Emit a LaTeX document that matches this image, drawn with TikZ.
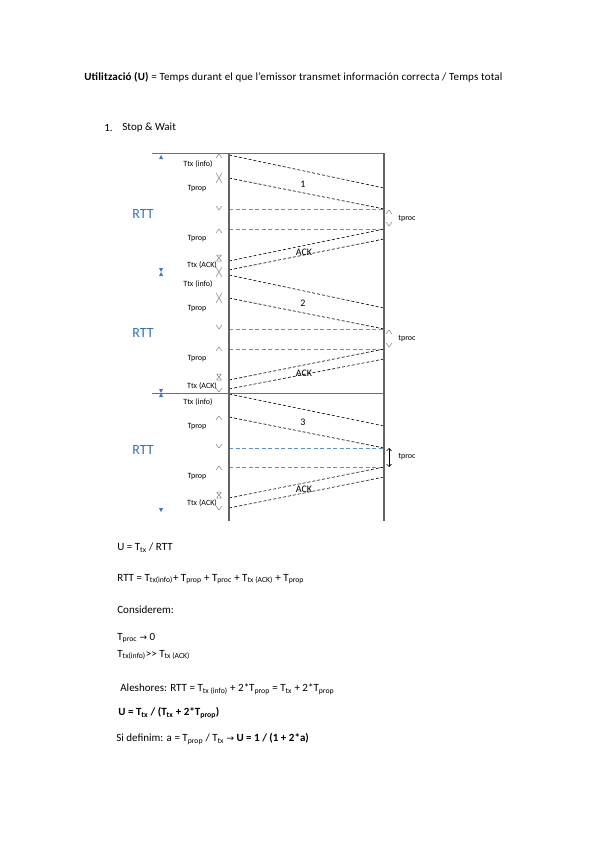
\documentclass[tikz,border=0pt]{standalone}
\usepackage{fontspec}
\setmainfont{Carlito}
\newfontfamily\symfont{DejaVu Sans}
\usetikzlibrary{arrows.meta,positioning,calc}
\definecolor{rttblue}{RGB}{46,116,181}
\definecolor{lineblue}{RGB}{68,114,196}
\definecolor{dashblue}{RGB}{91,145,210}
\definecolor{axisgray}{RGB}{100,100,100}
\newcommand{\sub}[1]{\textsubscript{#1}}
\tikzset{every picture/.style={line width=0.75pt}}
\tikzset{
  txt/.style={anchor=west, inner sep=0pt, font=\fontsize{11}{13}\selectfont},
  lbl/.style={inner sep=0pt, font=\fontsize{8}{9}\selectfont},
  seqno/.style={inner sep=0pt, font=\fontsize{10}{12}\selectfont},
  acklbl/.style={inner sep=0pt, font=\fontsize{10}{12}\selectfont},
  rtt/.style={inner sep=0pt, text=rttblue, font=\fontsize{14}{16}\selectfont},
  frame/.style={draw=lineblue, line width=0.8pt},
  host/.style={draw=axisgray, line width=1.5pt},
  msg/.style={dash pattern=on 3pt off 2pt, line width=0.6pt},
  level/.style={color=dashblue, dash pattern=on 4pt off 2.5pt, line width=1pt},
  upmark/.pic={\draw[gray, line width=0.5pt] (-3,2) -- (0,-2) -- (3,2);},
  downmark/.pic={\draw[gray, line width=0.5pt] (-3,-2) -- (0,2) -- (3,-2);},
  crossmark/.pic={\draw[gray, line width=0.5pt] (-3,-5) -- (3,5) (3,-5) -- (-3,5);},
  ackmark/.pic={\draw[gray, line width=0.5pt] (-2.5,-3) -- (2.5,3) (2.5,-3) -- (-2.5,3)
      (-2.5,-3) -- (2.5,-3) (-2.5,3) -- (2.5,3);},
  rttup/.pic={\fill[lineblue] (-2,2) -- (0,-2) -- (2,2) -- cycle;},
  rttdown/.pic={\fill[lineblue] (-2,-2) -- (0,2) -- (2,-2) -- cycle;},
  rttjoin/.pic={\fill[lineblue] (-2,-4) -- (2,-4) -- (0,0) -- cycle (-2,4) -- (2,4) -- (0,0) -- cycle;},
}

\begin{document}
\begin{tikzpicture}[x=1pt, y=-1pt]
    \useasboundingbox (0,0) rectangle (599,848);

    % títol
    \node[txt] (title) at (84,77) {\addfontfeatures{LetterSpace=1.5}\textbf{Utilització (U)} = Temps durant el que l’emissor transmet información correcta / Temps total};
    \node[txt] (num) at (104,128) {1.};
    \node[txt] (heading) at (122,128) {Stop \& Wait};

    % emissor i receptor
    \coordinate (etop) at (229,153);
    \coordinate (ebot) at (229,521);
    \coordinate (rtop) at (384,153);
    \coordinate (rbot) at (384,521);
    \draw[frame] (152,153) -- (rtop);
    \draw[frame] (152,393) -- (384,393);

    % RTT a l'esquerra
    \pic at (161,157) {rttup};
    \pic at (161,272) {rttjoin};
    \pic at (161,393) {rttjoin};
    \pic at (161,510) {rttdown};
    \node[rtt] (rtta) at (143,214) {RTT};
    \node[rtt] (rttb) at (143,333) {RTT};
    \node[rtt] (rttc) at (143,450) {RTT};

    % nivells (línies blaves)
    \coordinate (r1b) at (384,209);
    \coordinate (r1c) at (384,229);
    \coordinate (r2b) at (384,329);
    \coordinate (r2c) at (384,349);
    \coordinate (r3b) at (384,448);
    \coordinate (r3c) at (384,467);
    \draw[level] (r1b -| etop) -- (r1b);
    \draw[level] (r1c -| etop) -- (r1c);
    \draw[level] (r2b -| etop) -- (r2b);
    \draw[level] (r2c -| etop) -- (r2c);
    \draw[level] (r3b -| etop) -- (r3b);
    \draw[level] (r3c -| etop) -- (r3c);

    % trama 1
    \coordinate (e1a) at (229,155);
    \coordinate (r1a) at (384,188);
    \coordinate (e1b) at (229,178);
    \coordinate (e1c) at (229,261);
    \coordinate (r1d) at (384,239);
    \coordinate (e1d) at (229,270);
    \draw[msg] (e1a) -- (r1a);
    \draw[msg] (e1b) -- (r1b);
    \draw[msg] (e1c) -- (r1c);
    \draw[msg] (e1d) -- (r1d);
    \node[seqno] (n1) at (303,184) {1};
    \node[acklbl] (ack1) at (304,252) {ACK};
    \pic at (219,156) {upmark};
    \pic at (219,178) {crossmark};
    \pic at (219,208) {downmark};
    \pic at (219,231) {upmark};
    \pic at (219,258) {ackmark};
    \pic at (219,272) {crossmark};
    \node[lbl] (tx1) at (198,164) {Ttx (info)};
    \node[lbl] (pa1) at (197,189) {Tprop};
    \node[lbl] (pb1) at (197,239) {Tprop};
    \node[lbl] (ta1) at (202,265) {Ttx (ACK)};
    \pic at (389,212) {upmark};
    \pic at (389,224) {downmark};
    \node[lbl, anchor=west] (pr1) at (398,219) {tproc};

    % trama 2
    \coordinate (e2a) at (229,275);
    \coordinate (r2a) at (384,308);
    \coordinate (e2b) at (229,298);
    \coordinate (e2c) at (229,380);
    \coordinate (r2d) at (384,359);
    \coordinate (e2d) at (229,389);
    \draw[msg] (e2a) -- (r2a);
    \draw[msg] (e2b) -- (r2b);
    \draw[msg] (e2c) -- (r2c);
    \draw[msg] (e2d) -- (r2d);
    \node[seqno] (n2) at (303,303) {2};
    \node[acklbl] (ack2) at (304,373) {ACK};
    \pic at (219,298) {crossmark};
    \pic at (219,327) {downmark};
    \pic at (219,349) {upmark};
    \pic at (219,377) {ackmark};
    \pic at (219,390) {downmark};
    \node[lbl] (tx2) at (198,284) {Ttx (info)};
    \node[lbl] (pa2) at (197,309) {Tprop};
    \node[lbl] (pb2) at (197,359) {Tprop};
    \node[lbl] (ta2) at (202,386) {Ttx (ACK)};
    \pic at (389,332) {upmark};
    \pic at (389,345) {downmark};
    \node[lbl, anchor=west] (pr2) at (398,339) {tproc};

    % trama 3
    \coordinate (e3a) at (229,394);
    \coordinate (r3a) at (384,426);
    \coordinate (e3b) at (229,417);
    \coordinate (e3c) at (229,498);
    \coordinate (r3d) at (384,477);
    \coordinate (e3d) at (229,508);
    \draw[msg] (e3a) -- (r3a);
    \draw[msg] (e3b) -- (r3b);
    \draw[msg] (e3c) -- (r3c);
    \draw[msg] (e3d) -- (r3d);
    \node[seqno] (n3) at (303,422) {3};
    \node[acklbl] (ack3) at (304,489) {ACK};
    \pic at (219,418) {upmark};
    \pic at (219,446) {downmark};
    \pic at (219,468) {upmark};
    \pic at (219,495) {ackmark};
    \pic at (219,508) {downmark};
    \node[lbl] (tx3) at (198,402) {Ttx (info)};
    \node[lbl] (pa3) at (197,427) {Tprop};
    \node[lbl] (pb3) at (197,477) {Tprop};
    \node[lbl] (ta3) at (202,503) {Ttx (ACK)};
    \coordinate (pt3a) at (389,448);
    \coordinate (pt3b) at (389,467);
    \draw[{Straight Barb[length=2.5pt]}-{Straight Barb[length=2.5pt]}, line width=0.6pt] (pt3a) -- (pt3b);
    \node[lbl, anchor=west] (pr3) at (398,457) {tproc};

    % eixos de l'emissor i del receptor
    \draw[host] (etop) -- (ebot);
    \draw[host] (rtop) -- (rbot);

    % fórmules
    \node[txt] (f1) at (117,548) {U = T\sub{tx} / RTT};
    \node[txt] (f2) at (117,579) {RTT = T\sub{tx(info)}+ T\sub{prop} + T\sub{proc} + T\sub{tx (ACK)} + T\sub{prop}};
    \node[txt] (f3) at (117,610) {Considerem:};
    \node[txt] (f4) at (117,638) {T\sub{proc} {\symfont\fontsize{9}{11}\selectfont →} 0};
    \node[txt] (f5) at (117,655) {T\sub{tx(info)}{>}{>} T\sub{tx (ACK)}};
    \node[txt] (f6) at (120,689) {Aleshores: RTT = T\sub{tx (info)} + 2*T\sub{prop} = T\sub{tx} + 2*T\sub{prop}};
    \node[txt] (f7) at (118,713) {\textbf{U = T\sub{tx} / (T\sub{tx} + 2*T\sub{prop})}};
    \node[txt] (f8) at (116,739) {Si definim: a = T\sub{prop} / T\sub{tx} {\symfont\fontsize{9}{11}\selectfont →} \textbf{U = 1 / (1 + 2*a)}};
\end{tikzpicture}
\end{document}
